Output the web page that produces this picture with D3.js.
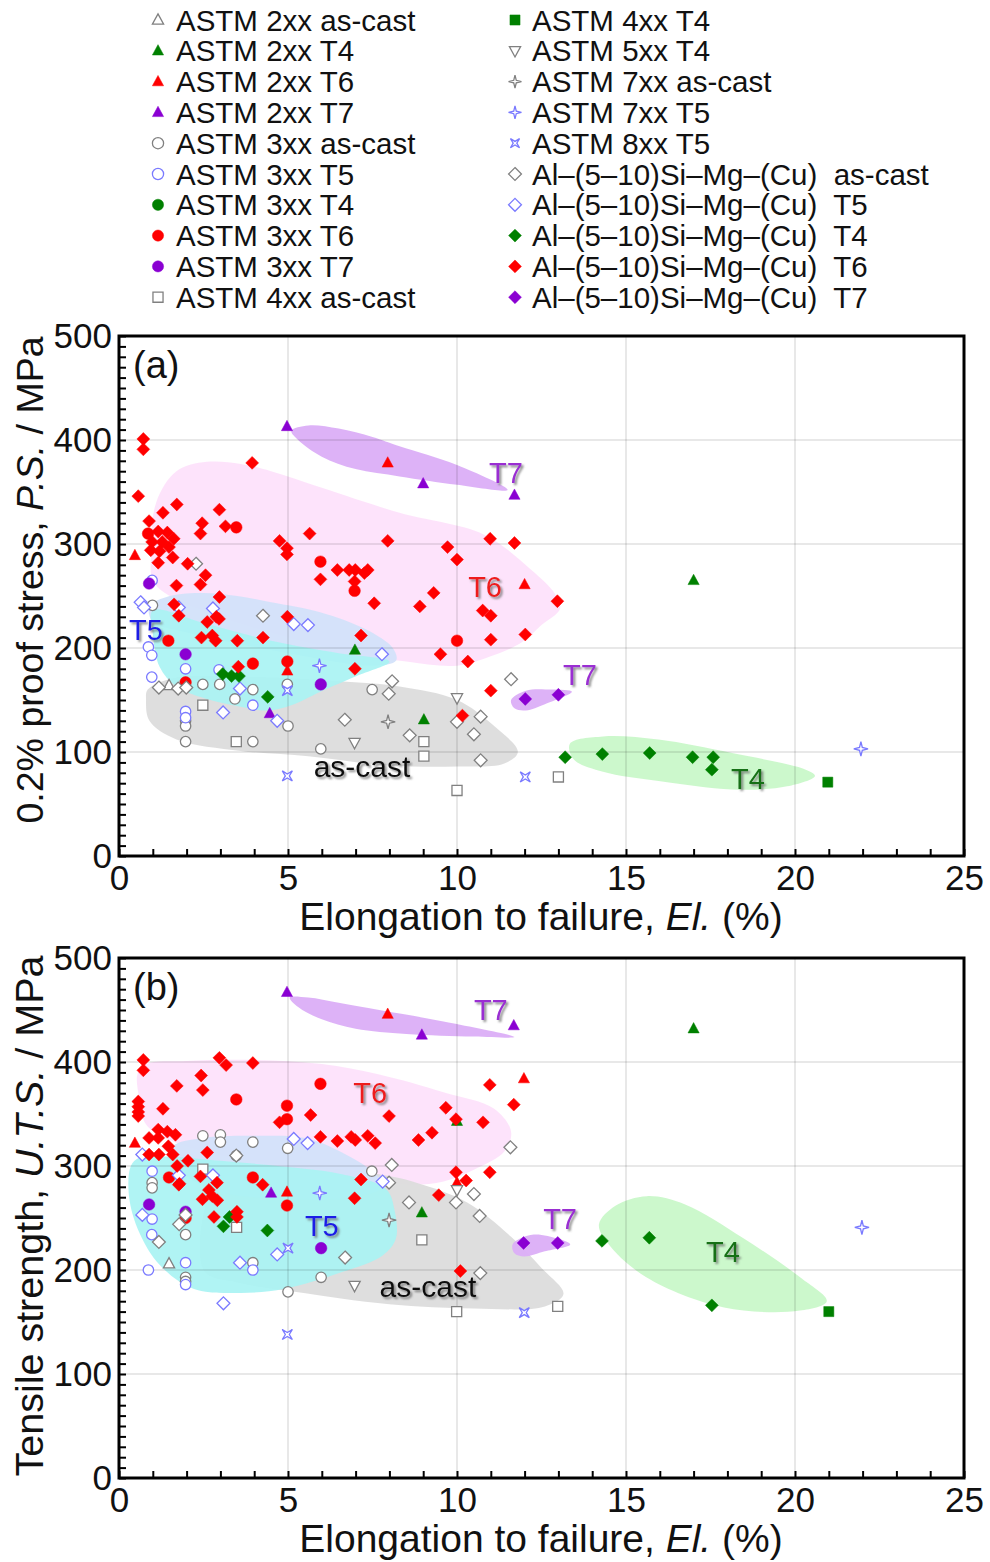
<!DOCTYPE html>
<html><head><meta charset="utf-8">
<script src="https://cdn.jsdelivr.net/npm/d3@7"></script>
<style>
body{margin:0;background:#fff;}
text{font-family:"Liberation Sans",Arial,sans-serif;}
</style></head><body>
<svg id="chart" width="990" height="1562"></svg>
<script>
// ---------------- DATA ----------------
const xTicks = [0, 5, 10, 15, 20, 25];
const yTicks = [0, 100, 200, 300, 400, 500];
const xTitle = ["Elongation to failure, ", "El.", " (%)"];
const yTitleA = ["0.2% proof stress, ", "P.S.", " / MPa"];
const yTitleB = ["Tensile strength, ", "U.T.S.", " / MPa"];

const seriesNames = [
  "ASTM 2xx as-cast", "ASTM 2xx T4", "ASTM 2xx T6", "ASTM 2xx T7",
  "ASTM 3xx as-cast", "ASTM 3xx T5", "ASTM 3xx T4", "ASTM 3xx T6", "ASTM 3xx T7",
  "ASTM 4xx as-cast", "ASTM 4xx T4", "ASTM 5xx T4", "ASTM 7xx as-cast", "ASTM 7xx T5", "ASTM 8xx T5",
  "Al\u2013(5\u201310)Si\u2013Mg\u2013(Cu)  as-cast", "Al\u2013(5\u201310)Si\u2013Mg\u2013(Cu)  T5",
  "Al\u2013(5\u201310)Si\u2013Mg\u2013(Cu)  T4", "Al\u2013(5\u201310)Si\u2013Mg\u2013(Cu)  T6",
  "Al\u2013(5\u201310)Si\u2013Mg\u2013(Cu)  T7"
];

// (a) 0.2% proof stress  [elongation %, MPa]
const psAstm2xxAsCast = [[1.48,164]];
const psAstm2xxT4 = [[6.98,198],[9.02,131],[17.0,265]];
const psAstm2xxT6 = [[0.47,289],[4.98,178],[7.95,378],[12.0,261]];
const psAstm2xxT7 = [[4.46,137],[4.97,413],[9.0,358],[11.7,347]];
const psAstm3xxAsCast = [[0.99,241],[1.97,130],[1.97,125],[1.97,110],[2.48,165],[2.98,165],[3.43,151],[3.96,160],[3.96,110],[4.98,165],[5.0,125],[5.97,103],[7.49,160]];
const psAstm3xxT5 = [[0.98,265],[0.87,201],[0.97,193],[0.97,172],[1.97,180],[1.97,139],[1.97,133],[2.96,179],[3.96,145]];
const psAstm3xxT4 = [];
const psAstm3xxT6 = [[0.86,310],[1.46,207],[1.97,167],[3.47,316],[3.96,185],[4.98,187],[5.96,283],[6.97,255],[10.0,207]];
const psAstm3xxT7 = [[0.89,262],[1.97,194],[5.97,165]];
const psAstm4xxAsCast = [[2.48,145],[3.47,110],[9.02,110],[9.02,96],[10.0,63],[13.0,76]];
const psAstm4xxT4 = [[20.97,71]];
const psAstm5xxT4 = [[6.97,109],[10.0,152]];
const psAstm7xxAsCast = [[7.96,129]];
const psAstm7xxT5 = [[5.93,183],[21.95,103]];
const psAstm8xxT5 = [[4.98,159],[4.98,77],[12.02,76]];
const psAlSiAsCast = [[2.28,281],[4.26,231],[1.18,162],[1.75,161],[1.99,162],[6.68,131],[8.08,168],[7.98,156],[8.6,116],[10.5,117],[10.0,129],[10.7,134],[10.7,92],[11.6,170]];
const psAlSiT5 = [[0.64,244],[0.74,239],[1.77,239],[2.78,238],[5.17,223],[5.59,222],[7.78,194],[3.58,161],[3.08,138],[4.68,130]];
const psAlSiT4 = [[3.07,175],[3.33,173],[3.55,173],[4.4,153],[13.2,95],[14.3,98],[15.7,99],[16.97,95],[17.58,95],[17.54,83]];
const psAlSiT6 = [[0.72,401],[0.72,391],[3.94,378],[0.57,346],[1.71,338],[1.3,330],[2.97,333],[0.89,322],[2.46,320],[3.15,317],[2.41,310],[5.64,310],[7.95,303],[1.16,312],[1.43,311],[1.62,305],[0.98,302],[1.28,302],[1.48,297],[0.94,294],[1.2,293],[4.75,303],[4.97,296],[4.97,290],[1.16,282],[1.59,287],[2.03,281],[2.56,270],[2.41,261],[1.7,260],[2.97,249],[5.96,266],[6.46,275],[6.81,275],[6.99,275],[6.97,264],[7.26,272],[7.36,275],[7.55,243],[9.72,297],[10.0,285],[10.98,305],[11.7,301],[9.31,253],[8.9,240],[12.97,245],[10.76,236],[11.0,231],[11.0,208],[12.02,213],[9.51,194],[10.32,187],[11.0,159],[10.16,135],[1.63,242],[1.77,231],[2.61,225],[2.88,230],[2.96,228],[2.44,210],[2.76,212],[2.86,207],[3.5,207],[4.26,210],[4.98,230],[7.16,212],[3.53,182],[6.98,180]];
const psAlSiT7 = [[12.02,151],[13.0,155]];

// (b) tensile strength  [elongation %, MPa]
const utsAstm2xxAsCast = [[1.48,206]];
const utsAstm2xxT4 = [[8.96,255],[10.0,343],[17.0,432]];
const utsAstm2xxT6 = [[0.47,322],[4.97,275],[7.95,446],[10.0,284],[11.98,384]];
const utsAstm2xxT7 = [[4.5,274],[4.97,467],[8.96,426],[11.68,435]];
const utsAstm3xxAsCast = [[2.48,329],[3.0,330],[3.0,323],[3.96,323],[4.99,317],[3.47,310],[7.48,295],[0.98,284],[0.98,279],[1.97,234],[1.97,193],[1.97,189],[3.96,207],[5.98,193],[5.0,179]];
const utsAstm3xxT5 = [[0.98,295],[0.98,249],[0.97,234],[0.87,200],[1.97,207],[1.97,186],[3.96,200]];
const utsAstm3xxT4 = [];
const utsAstm3xxT6 = [[3.47,364],[4.97,358],[4.97,345],[5.96,379],[1.48,289],[3.96,289],[4.97,262],[1.97,250]];
const utsAstm3xxT7 = [[0.89,263],[1.97,256],[5.98,221]];
const utsAstm4xxAsCast = [[2.48,297],[3.48,241],[8.96,229],[9.99,160],[12.98,165]];
const utsAstm4xxT4 = [[21.0,160]];
const utsAstm5xxT4 = [[6.97,185],[10.0,277]];
const utsAstm7xxAsCast = [[7.99,248]];
const utsAstm7xxT5 = [[5.94,274],[21.98,241]];
const utsAstm8xxT5 = [[5.0,221],[4.98,138],[11.99,159]];
const utsAlSiAsCast = [[3.47,310],[8.07,301],[7.99,284],[11.58,318],[8.58,265],[9.97,265],[10.5,273],[10.67,252],[10.69,197],[1.18,227],[1.78,244],[1.97,253],[6.69,212]];
const utsAlSiT5 = [[5.17,326],[5.58,322],[0.69,311],[1.77,291],[2.78,291],[7.8,285],[0.69,253],[3.58,207],[4.68,215],[3.09,168]];
const utsAlSiT4 = [[3.09,242],[3.27,251],[4.39,238],[14.29,228],[15.69,231],[17.54,166]];
const utsAlSiT6 = [[0.72,402],[0.72,392],[2.97,404],[3.17,397],[3.96,399],[1.71,377],[2.43,387],[2.48,373],[4.75,342],[5.67,349],[7.99,348],[0.57,362],[0.57,357],[0.57,352],[0.57,348],[1.3,355],[1.16,335],[1.43,333],[1.67,330],[0.89,327],[1.16,327],[1.46,319],[0.89,311],[1.18,311],[1.59,311],[1.72,300],[1.79,283],[2.61,313],[2.04,305],[5.96,328],[6.46,324],[6.87,328],[6.99,325],[7.36,329],[7.58,322],[2.41,290],[2.9,284],[2.66,277],[2.76,271],[2.47,268],[2.91,267],[1.77,282],[4.25,282],[6.97,269],[7.16,287],[3.49,256],[3.49,251],[2.81,251],[10.97,378],[11.68,359],[9.67,356],[9.97,345],[10.77,342],[8.86,325],[9.26,332],[9.97,294],[10.27,286],[10.97,294],[9.46,272],[10.1,199]];
const utsAlSiT7 = [[11.97,226],[12.98,226]];

// shaded group outlines (data coordinates)
const regA_T6 = [[0.95,290],[1.1,340],[1.7,370],[2.6,379],[3.6,377],[4.5,370],[6,354],[8.3,330],[10.8,309],[12.2,275],[12.9,252],[13.05,238],[12.5,222],[11.9,205],[11,192],[10,183],[8.5,187],[7,195],[5,210],[3,230],[1.5,250],[1.0,265]];
const regA_asCast = [[0.85,160],[1.6,171],[4,172],[6.5,168],[8.3,163],[10,150],[11.1,125],[11.8,100],[11.4,89],[10,86],[8,87],[5.6,96],[3.6,101],[1.7,112],[0.9,130],[0.8,150]];
const regA_T5a = [[0.9,240],[1.5,250],[2.5,253],[3.5,250],[4.5,244],[6,234],[7.3,218],[8.1,200],[8.2,188],[7.5,183],[5,195],[2,215],[1,225]];
const regA_T5b = [[1.0,236],[2.5,224],[4.5,207],[6.5,195],[8,187],[7.1,174],[6.1,160],[5.1,145],[4.4,140],[3.6,143.6],[2.7,150],[1.7,163],[1.2,182],[1.0,214]];
const regA_T7a = [[5.1,409],[5.6,414],[6.5,411],[7.5,403],[8.3,394],[10,376],[11.5,352],[10,357],[8.3,365],[7,372],[6,384],[5.3,400]];
const regA_T7b = [[11.6,150],[12.04,159],[12.8,160],[13.4,158],[12.6,146],[12.04,140],[11.7,142]];
const regA_T4 = [[13.34,108],[14.32,115],[15.96,112],[18.14,99],[20.32,83],[20.59,77],[19.77,67],[18.14,64],[15.96,72],[14.32,81],[13.45,93]];

const regB_T6 = [[0.55,389],[0.8,398],[2,401],[4,402],[6,398],[7.7,388],[9.6,371],[11.1,355],[11.6,333],[11.4,314],[10.6,298],[9.6,285],[8.6,282],[7.6,287],[5,300],[3,310],[1.5,325],[0.8,340],[0.6,365]];
const regB_asCast = [[3,292],[5,300],[7.5,293],[8.8,284],[10.3,265],[11.6,232],[12.5,202],[13.15,177],[12.6,165],[10.5,163],[8,167],[5.2,179],[3.5,188],[2.5,200]];
const regB_T5a = [[1.6,319],[2.5,327],[4,329],[5.5,327],[6.6,313],[7.6,292],[7.8,280],[7,270],[5,268],[3,275],[2,290],[1.6,305]];
const regB_T5b = [[0.35,300],[0.6,308],[1.5,309],[3,305],[5,299],[6.6,292],[7.9,278],[8.15,258],[8.19,230],[7.8,214],[6.6,198],[4.9,182],[3.6,178],[2.2,182],[1.2,205],[0.6,236],[0.3,270]];
const regB_T7a = [[5.05,462],[5.6,462],[6.5,457],[7.7,450],[9.6,439],[11.7,424],[10.5,424.5],[8.5,427],[7,432],[6,441],[5.3,453]];
const regB_T7b = [[11.65,225],[12.22,234],[13,230],[13.35,224.6],[12.6,218],[11.99,213],[11.7,216]];
const regB_T4 = [[14.2,244],[14.7,262],[15.62,271],[16.75,263],[18.45,231],[20.15,193],[20.94,170],[20.15,161],[17.9,164],[15.6,193],[14.48,225]];

// in-plot group labels [text, x, y]
const labelsA = [["T7",11.45,369],["T6",10.83,259],["T5",0.80,218],["as-cast",7.19,86.5],["T7",13.64,174],["T4",18.61,74]];
const labelsB = [["T7",11.0,450],["T6",7.43,371],["T5",6.0,243],["as-cast",9.14,184],["T7",13.05,249],["T4",17.87,218]];

// ---------------- STYLE ----------------
const GRAY = "#808080", BLUE = "#7a7aff", GREEN = "#008000", RED = "#ff0000", PURPLE = "#8a00d2";
const seriesStyle = [
  ["triUp",GRAY,true],["triUp",GREEN,false],["triUp",RED,false],["triUp",PURPLE,false],
  ["circle",GRAY,true],["circle",BLUE,true],["circle",GREEN,false],["circle",RED,false],["circle",PURPLE,false],
  ["square",GRAY,true],["square",GREEN,false],["triDown",GRAY,true],["star",GRAY,true],["star",BLUE,true],["starX",BLUE,true],
  ["diamond",GRAY,true],["diamond",BLUE,true],["diamond",GREEN,false],["diamond",RED,false],["diamond",PURPLE,false]
];
const psData = [psAstm2xxAsCast,psAstm2xxT4,psAstm2xxT6,psAstm2xxT7,psAstm3xxAsCast,psAstm3xxT5,psAstm3xxT4,psAstm3xxT6,psAstm3xxT7,psAstm4xxAsCast,psAstm4xxT4,psAstm5xxT4,psAstm7xxAsCast,psAstm7xxT5,psAstm8xxT5,psAlSiAsCast,psAlSiT5,psAlSiT4,psAlSiT6,psAlSiT7];
const utsData = [utsAstm2xxAsCast,utsAstm2xxT4,utsAstm2xxT6,utsAstm2xxT7,utsAstm3xxAsCast,utsAstm3xxT5,utsAstm3xxT4,utsAstm3xxT6,utsAstm3xxT7,utsAstm4xxAsCast,utsAstm4xxT4,utsAstm5xxT4,utsAstm7xxAsCast,utsAstm7xxT5,utsAstm8xxT5,utsAlSiAsCast,utsAlSiT5,utsAlSiT4,utsAlSiT6,utsAlSiT7];
const labelColor = {"T7":"#9a2ed2","T6":"#ee1c1c","T5":"#1c1ce6","as-cast":"#111111","T4":"#147014"};
const regionFill = {T6:"#fde1fb",asCast:"#dcdcdc",T5a:"#d3e1fa",T5b:"#a9f3f3",T7:"#dbaef7",T4:"#c9f8c9"};

function markerPath(type, r) {
  switch (type) {
    case "triUp": return `M0,${-r*1.1}L${r},${r*0.75}L${-r},${r*0.75}Z`;
    case "triDown": return `M0,${r*1.1}L${r},${-r*0.75}L${-r},${-r*0.75}Z`;
    case "circle": return `M${r},0A${r},${r} 0 1,1 ${-r},0A${r},${r} 0 1,1 ${r},0Z`;
    case "square": return `M${-r*0.9},${-r*0.9}H${r*0.9}V${r*0.9}H${-r*0.9}Z`;
    case "diamond": return `M0,${-r*1.15}L${r*1.15},0L0,${r*1.15}L${-r*1.15},0Z`;
    case "star": case "starX": {
      const rot = type === "starX" ? Math.PI/4 : 0, pts = [];
      for (let i = 0; i < 8; i++) {
        const a = rot + i*Math.PI/4 - Math.PI/2, rr = i%2===0 ? r*1.15 : r*0.32;
        pts.push([rr*Math.cos(a), rr*Math.sin(a)]);
      }
      return "M" + pts.map(p => p[0].toFixed(2)+","+p[1].toFixed(2)).join("L") + "Z";
    }
  }
}

const svg = d3.select("#chart");
const defs = svg.append("defs");
const f = defs.append("filter").attr("id","shadow").attr("x","-30%").attr("y","-30%").attr("width","160%").attr("height","160%");
f.append("feDropShadow").attr("dx",2).attr("dy",2).attr("stdDeviation",1.3).attr("flood-color","#666").attr("flood-opacity",0.75);

// ---------------- LEGEND ----------------
const legend = svg.append("g");
seriesNames.forEach((name, i) => {
  const col = i < 10 ? 0 : 1, row = i % 10;
  const mx = col === 0 ? 158 : 515, tx = col === 0 ? 176 : 532;
  const cy = 20 + row * 30.8;
  const [type, color, open] = seriesStyle[i];
  legend.append("path").attr("d", markerPath(type, 5.6))
    .attr("transform", `translate(${mx},${cy})`)
    .attr("fill", open ? "#fff" : color).attr("stroke", color).attr("stroke-width", open ? 1.3 : 0.5);
  legend.append("text").attr("x", tx).attr("y", cy).attr("dy","0.36em")
    .attr("font-size", 29.5).attr("fill","#111").style("white-space","pre").text(name);
});

// ---------------- PANELS ----------------
const x = d3.scaleLinear().domain([0,25]).range([119,964]);
const line = d3.line().curve(d3.curveCatmullRomClosed.alpha(0.5));

function drawPanel(top, bottom, data, regions, labels, tag, yTitle, yTitleSize, yTitleCenter, clipId) {
  const y = d3.scaleLinear().domain([0,500]).range([bottom, top]);
  const g = svg.append("g");
  defs.append("clipPath").attr("id", clipId).append("rect")
    .attr("x",119).attr("y",top).attr("width",845).attr("height",bottom-top);
  const rg = g.append("g").attr("clip-path",`url(#${clipId})`);
  regions.forEach(([key, pts]) => {
    rg.append("path").attr("d", line(pts.map(p => [x(p[0]), y(p[1])])))
      .attr("fill", regionFill[key]).attr("opacity", key === "T5b" ? 0.92 : 0.95);
  });
  // grid
  const grid = g.append("g").attr("stroke","rgba(0,0,0,0.12)").attr("stroke-width",1.5);
  xTicks.slice(1,-1).forEach(v => grid.append("line").attr("x1",x(v)).attr("x2",x(v)).attr("y1",top).attr("y2",bottom));
  yTicks.slice(1,-1).forEach(v => grid.append("line").attr("x1",119).attr("x2",964).attr("y1",y(v)).attr("y2",y(v)));
  // labels
  labels.forEach(([t, lx, ly]) => {
    g.append("text").attr("x", x(lx)).attr("y", y(ly)).attr("dy","0.36em").attr("text-anchor","middle")
      .attr("font-size", t === "as-cast" ? 30 : 29).attr("fill", labelColor[t]).attr("filter","url(#shadow)").text(t);
  });
  // points
  const pg = g.append("g");
  data.forEach((pts, i) => {
    const [type, color, open] = seriesStyle[i];
    const r = type === "diamond" ? 5.6 : type === "circle" ? (open ? 5.2 : 5.8) : type.startsWith("star") ? 6.2 : 5.6;
    pg.selectAll(null).data(pts).enter().append("path")
      .attr("d", markerPath(type, r))
      .attr("transform", d => `translate(${x(d[0])},${y(d[1])})`)
      .attr("fill", open ? "#fff" : color).attr("stroke", color).attr("stroke-width", open ? 1.3 : 0.5);
  });
  // minor ticks
  g.append("g").attr("transform",`translate(0,${bottom})`)
    .call(d3.axisBottom(x).tickValues(d3.range(0,26,1)).tickSize(-7).tickFormat(""))
    .call(s => s.select(".domain").remove()).selectAll("line").attr("stroke","#000").attr("stroke-width",2);
  g.append("g").attr("transform","translate(119,0)")
    .call(d3.axisLeft(y).tickValues(d3.range(0,501,10)).tickSize(-7).tickFormat(""))
    .call(s => s.select(".domain").remove()).selectAll("line").attr("stroke","#000").attr("stroke-width",2);
  // tick labels
  const xl = g.append("g").attr("transform",`translate(0,${bottom})`)
    .call(d3.axisBottom(x).tickValues(xTicks).tickSize(0).tickPadding(9).tickFormat(d3.format("d")));
  xl.select(".domain").remove();
  xl.selectAll("text").attr("font-size",35).attr("fill","#111").attr("font-family",'"Liberation Sans",Arial,sans-serif');
  const yl = g.append("g").attr("transform","translate(119,0)")
    .call(d3.axisLeft(y).tickValues(yTicks).tickSize(0).tickPadding(7).tickFormat(d3.format("d")));
  yl.select(".domain").remove();
  yl.selectAll("text").attr("font-size",35).attr("fill","#111").attr("font-family",'"Liberation Sans",Arial,sans-serif');
  // frame
  g.append("rect").attr("x",119).attr("y",top).attr("width",845).attr("height",bottom-top)
    .attr("fill","none").attr("stroke","#000").attr("stroke-width",3);
  // panel tag
  g.append("text").attr("x",133).attr("y",top+42).attr("font-size",38).attr("fill","#111").text(tag);
  // axis titles
  const xt = g.append("text").attr("x",541).attr("y",bottom+74).attr("text-anchor","middle").attr("font-size",39).attr("fill","#111");
  xt.append("tspan").text(xTitle[0]); xt.append("tspan").attr("font-style","italic").text(xTitle[1]); xt.append("tspan").text(xTitle[2]);
  const yt = g.append("text").attr("transform",`translate(43,${yTitleCenter}) rotate(-90)`).attr("text-anchor","middle").attr("font-size",yTitleSize).attr("fill","#111");
  yt.append("tspan").text(yTitle[0]); yt.append("tspan").attr("font-style","italic").text(yTitle[1]); yt.append("tspan").text(yTitle[2]);
}

drawPanel(336, 856, psData,
  [["T6",regA_T6],["asCast",regA_asCast],["T5a",regA_T5a],["T5b",regA_T5b],["T7",regA_T7a],["T7",regA_T7b],["T4",regA_T4]],
  labelsA, "(a)", yTitleA, 37.5, 580, "clipA");
drawPanel(958, 1478, utsData,
  [["T6",regB_T6],["asCast",regB_asCast],["T5a",regB_T5a],["T5b",regB_T5b],["T7",regB_T7a],["T7",regB_T7b],["T4",regB_T4]],
  labelsB, "(b)", yTitleB, 39.5, 1216, "clipB");
</script></body></html>
